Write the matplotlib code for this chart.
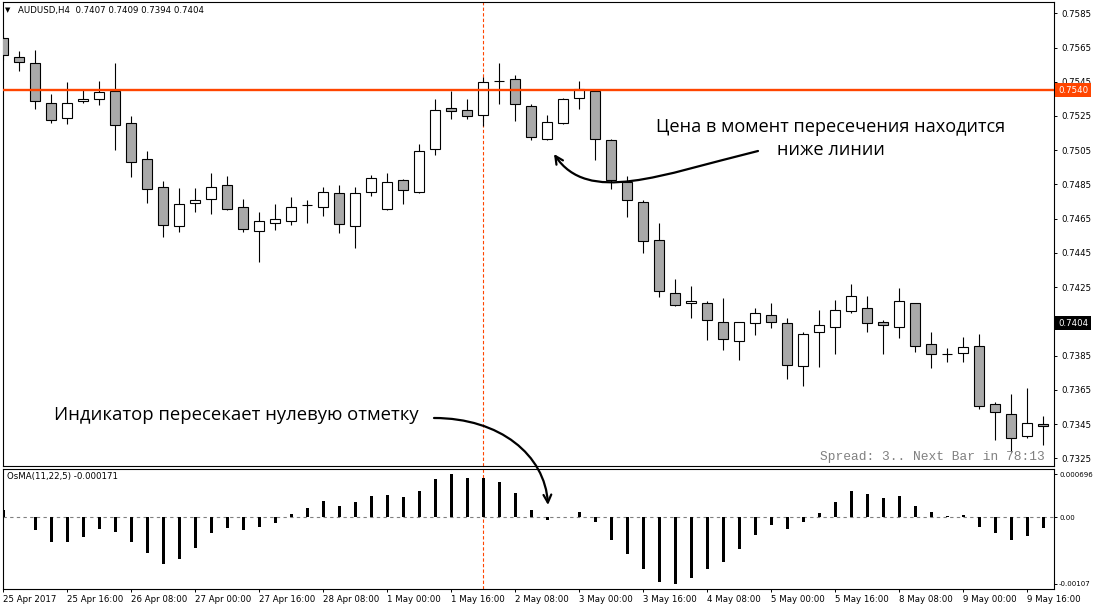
import numpy as np
import matplotlib
matplotlib.use('Agg')
import matplotlib.pyplot as plt
from matplotlib.patches import FancyArrowPatch
from matplotlib.path import Path

# AUDUSD H4 candles, 25 Apr 2017 00:00 .. 9 May 2017 20:00
opens = [0.75704, 0.75593, 0.75558, 0.75324, 0.75236, 0.75336, 0.75351, 0.75394, 0.75207, 0.74997,
         0.74833, 0.74607, 0.74743, 0.74763, 0.74845, 0.74716, 0.74576, 0.74623, 0.74635, 0.74728,
         0.74716, 0.74798, 0.74607, 0.74804, 0.74705, 0.74874, 0.74804, 0.75055, 0.75295, 0.75283,
         0.75254, 0.75452, 0.75464, 0.75307, 0.75114, 0.75207, 0.75353, 0.75394, 0.75108, 0.74866,
         0.74746, 0.74524, 0.74214, 0.74156, 0.74156, 0.74046, 0.73934, 0.74039, 0.74085, 0.74039,
         0.73787, 0.73986, 0.74015, 0.74109, 0.74126, 0.74045, 0.74015, 0.74156, 0.73916, 0.73861,
         0.73863, 0.73904, 0.73565, 0.73507, 0.73378, 0.73449]
highs = [0.75717, 0.75630, 0.75636, 0.75378, 0.75449, 0.75402, 0.75454, 0.75560, 0.75250, 0.75045,
         0.74870, 0.74827, 0.74827, 0.74915, 0.74899, 0.74763, 0.74687, 0.74736, 0.74775, 0.74759,
         0.74835, 0.74847, 0.74833, 0.74905, 0.74917, 0.74879, 0.75086, 0.75349, 0.75396, 0.75349,
         0.75480, 0.75560, 0.75490, 0.75318, 0.75254, 0.75353, 0.75456, 0.75406, 0.75114, 0.74899,
         0.74759, 0.74623, 0.74298, 0.74255, 0.74169, 0.74187, 0.74046, 0.74126, 0.74157, 0.74068,
         0.73986, 0.74116, 0.74173, 0.74267, 0.74196, 0.74056, 0.74243, 0.74156, 0.73986, 0.73896,
         0.73957, 0.73974, 0.73577, 0.73624, 0.73662, 0.73495]
lows = [0.75577, 0.75515, 0.75293, 0.75211, 0.75205, 0.75324, 0.75316, 0.75051, 0.74895, 0.74743,
        0.74545, 0.74574, 0.74691, 0.74676, 0.74698, 0.74575, 0.74395, 0.74584, 0.74613, 0.74623,
        0.74666, 0.74565, 0.74477, 0.74784, 0.74698, 0.74734, 0.74800, 0.75022, 0.75234, 0.75234,
        0.75193, 0.75322, 0.75223, 0.75108, 0.75111, 0.75204, 0.75293, 0.74995, 0.74825, 0.74662,
        0.74451, 0.74194, 0.74141, 0.74068, 0.73943, 0.73884, 0.73826, 0.73970, 0.74013, 0.73715,
        0.73674, 0.73785, 0.73861, 0.74097, 0.73986, 0.73858, 0.73955, 0.73873, 0.73776, 0.73814,
        0.73814, 0.73536, 0.73355, 0.73285, 0.73367, 0.73326]
closes = [0.75606, 0.75564, 0.75338, 0.75225, 0.75324, 0.75349, 0.75388, 0.75196, 0.74983, 0.74825,
          0.74613, 0.74736, 0.74759, 0.74833, 0.74705, 0.74588, 0.74635, 0.74646, 0.74716, 0.74730,
          0.74804, 0.74617, 0.74798, 0.74886, 0.74867, 0.74816, 0.75044, 0.75283, 0.75277, 0.75248,
          0.75447, 0.75454, 0.75318, 0.75126, 0.75213, 0.75348, 0.75406, 0.75114, 0.74874, 0.74757,
          0.74518, 0.74226, 0.74144, 0.74167, 0.74056, 0.73945, 0.74046, 0.74099, 0.74045, 0.73793,
          0.73974, 0.74027, 0.74115, 0.74196, 0.74039, 0.74027, 0.74167, 0.73904, 0.73858, 0.73859,
          0.73898, 0.73554, 0.73519, 0.73367, 0.73454, 0.73437]

# OsMA(11,22,5) histogram
osma = [0.000118, 0.000011, -0.000205, -0.000392, -0.000392, -0.000311, -0.000189, -0.000231, -0.000392, -0.000569,
        -0.000747, -0.000666, -0.000495, -0.000247, -0.000166, -0.000205, -0.000150, -0.000085, 0.000053, 0.000150,
        0.000263, 0.000182, 0.000247, 0.000350, 0.000366, 0.000327, 0.000424, 0.000618, 0.000696, 0.000634,
        0.000634, 0.000569, 0.000392, 0.000118, -0.000044, 0.0, 0.000092, -0.000076, -0.000366, -0.000592,
        -0.000834, -0.001037, -0.001070, -0.000973, -0.000834, -0.000715, -0.000511, -0.000285, -0.000124, -0.000189,
        -0.000076, 0.000069, 0.000247, 0.000424, 0.000382, 0.000311, 0.000350, 0.000182, 0.000085, 0.000021,
        0.000037, -0.000156, -0.000253, -0.000366, -0.000302, -0.000171]

date_labels = ['25 Apr 2017', '25 Apr 16:00', '26 Apr 08:00', '27 Apr 00:00', '27 Apr 16:00',
               '28 Apr 08:00', '1 May 00:00', '1 May 16:00', '2 May 08:00', '3 May 00:00',
               '3 May 16:00', '4 May 08:00', '5 May 00:00', '5 May 16:00', '8 May 08:00',
               '9 May 00:00', '9 May 16:00']
price_ticks = [0.7585, 0.7565, 0.7545, 0.7525, 0.7505, 0.7485, 0.7465, 0.7445, 0.7425,
               0.7385, 0.7365, 0.7345, 0.7325]
level = 0.7540
last_price = 0.7404
cursor_bar = 30

W, H = 1094, 611
fig = plt.figure(figsize=(W / 100, H / 100), dpi=100)
fig.patch.set_facecolor('white')


def px(x, y):
    return (x / W, 1 - y / H)


ax = fig.add_axes([2.5 / W, 1 - 466 / H, 1051 / W, 464 / H])
ax2 = fig.add_axes([2.5 / W, 1 - 589 / H, 1051 / W, 120 / H])

o = np.array(opens)
c = np.array(closes)
x = np.arange(len(o))
body_colors = np.where(c >= o, 'white', '#a9a9a9')

ax.vlines(x, lows, highs, color='black', lw=0.8, zorder=2)
ax.bar(x, np.abs(c - o), bottom=np.minimum(o, c), width=0.6, color=body_colors,
       edgecolor='black', lw=0.8, zorder=3)
ax.axhline(level, color='#ff4500', lw=1.7, zorder=4)
ax.axvline(cursor_bar, color='#ff4500', lw=0.8, ls=(0, (3, 2)), zorder=1)

ax.set_xlim(-0.05, 65.64)
ax.set_ylim(0.73205, 0.75916)
ax.set_xticks([])
ax.yaxis.tick_right()
ax.set_yticks(price_ticks)
ax.set_yticklabels(['%.4f' % p for p in price_ticks])
ax.tick_params(axis='y', direction='out', length=2.5, width=0.7, pad=3, labelsize=6.2)

ax.text(1.0043, level, '%.4f' % level, transform=ax.get_yaxis_transform(), ha='left', va='center',
        fontsize=6.2, color='white', clip_on=False, zorder=10,
        bbox=dict(boxstyle='square,pad=0.3', fc='#ff4500', ec='none'))
ax.text(1.0043, last_price, '%.4f' % last_price, transform=ax.get_yaxis_transform(), ha='left',
        va='center', fontsize=6.2, color='white', clip_on=False, zorder=10,
        bbox=dict(boxstyle='square,pad=0.3', fc='black', ec='none'))

# indicator window
ax2.bar(x, osma, width=0.19, color='black', zorder=3)
ax2.axhline(0, color='#808080', lw=0.8, ls=(0, (3, 3)), zorder=1)
ax2.axvline(cursor_bar, color='#ff4500', lw=0.8, ls=(0, (3, 2)), zorder=1)
ax2.set_xlim(-0.05, 65.64)
ax2.set_ylim(-0.001156, 0.000779)
ax2.yaxis.tick_right()
ax2.set_yticks([0.000696, 0, -0.00107])
ax2.set_yticklabels(['0.000696', '0.00', '-0.00107'])
ax2.set_xticks(range(0, len(o), 4))
ax2.set_xticklabels(date_labels, ha='left')
ax2.tick_params(axis='y', direction='out', length=2.5, width=0.7, pad=1.5, labelsize=5.0)
ax2.tick_params(axis='x', direction='out', length=2.5, width=0.7, pad=1.5, labelsize=6.2)

for a in (ax, ax2):
    for s in a.spines.values():
        s.set_linewidth(0.8)
        s.set_color('black')

# headers
fig.text(*px(5, 10), '\u25bc', fontsize=5, va='center', ha='left')
fig.text(*px(18, 10), 'AUDUSD,H4  0.7407 0.7409 0.7394 0.7404', fontsize=6.2, va='center', ha='left')
fig.text(*px(7, 477), 'OsMA(11,22,5) -0.000171', fontsize=6.2, va='center', ha='left')
fig.text(*px(1045, 457), 'Spread: 3.. Next Bar in 78:13', family='Liberation Mono', fontsize=9.3,
         color='#808080', va='center', ha='right')

# annotations
fig.text(*px(831, 127), 'Цена в момент пересечения находится', family='Open Sans', fontsize=13.1,
         ha='center', va='center')
fig.text(*px(831, 150), 'ниже линии', family='Open Sans', fontsize=13.1, ha='center', va='center')
fig.text(*px(236, 415), 'Индикатор пересекает нулевую отметку', family='Open Sans', fontsize=13.3,
         ha='center', va='center')

curve1 = Path([px(758, 151), px(660, 175), px(588, 205), px(554, 154)],
              [Path.MOVETO, Path.CURVE4, Path.CURVE4, Path.CURVE4])
curve2 = Path([px(434, 418), px(500, 418), px(545, 455), px(548, 505)],
              [Path.MOVETO, Path.CURVE4, Path.CURVE4, Path.CURVE4])
for p in (curve1, curve2):
    arr = FancyArrowPatch(path=p, arrowstyle='->', mutation_scale=14, lw=1.6, color='black',
                          transform=fig.transFigure)
    fig.add_artist(arr)

fig.savefig('out.png', dpi=100, facecolor='white')
